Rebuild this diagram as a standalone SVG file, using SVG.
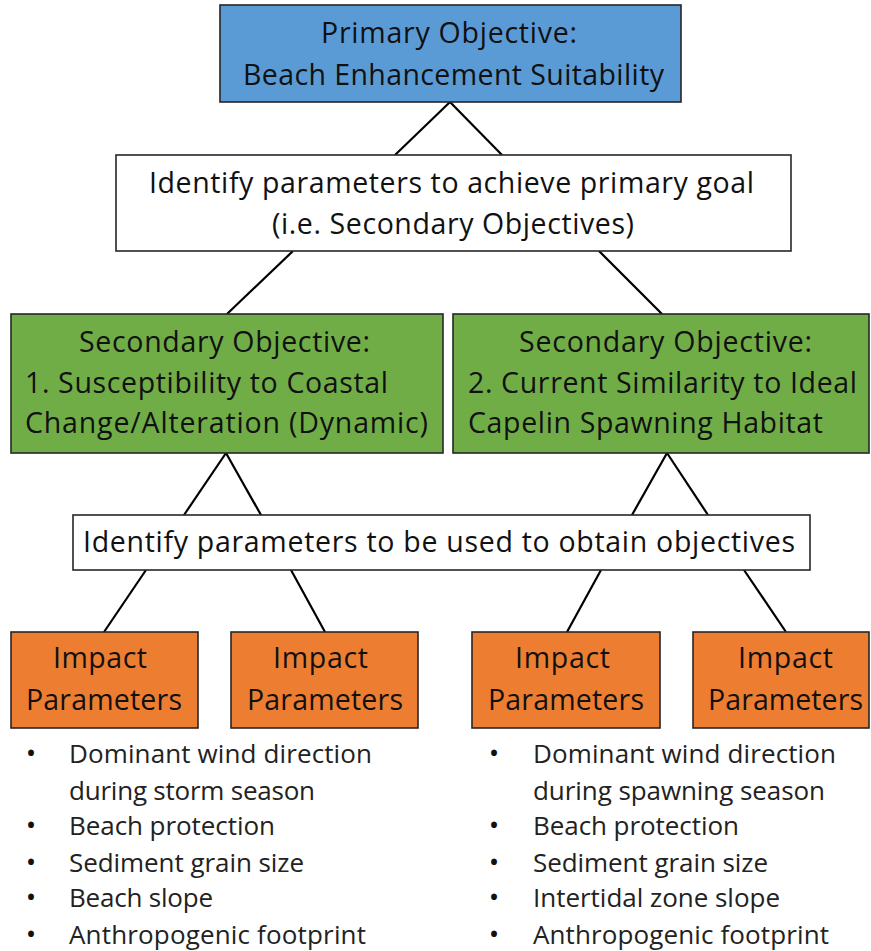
<svg xmlns="http://www.w3.org/2000/svg" width="871" height="951" viewBox="0 0 871 951">
<style>
.box{stroke:#262626;stroke-width:1.6}
.blue{fill:#5B9BD5}
.white{fill:#FFFFFF}
.green{fill:#70AD47}
.orange{fill:#ED7D31}
text{font-family:"Open Sans","Liberation Sans",sans-serif;fill:#111111}
.t{font-size:28.5px}
.b{font-size:26px;fill:#222222}
.d{font-size:28px;fill:#111111}
.conn line{stroke:#000000;stroke-width:2.2}
</style>
<rect width="871" height="951" fill="#FFFFFF"/>
<g class="conn" id="connectors">
<line x1="450" y1="102" x2="395" y2="155"/>
<line x1="450" y1="102" x2="502" y2="155"/>
<line x1="293" y1="251" x2="227" y2="314"/>
<line x1="599" y1="251" x2="662" y2="314"/>
<line x1="226" y1="453" x2="184" y2="515"/>
<line x1="226" y1="453" x2="261" y2="515"/>
<line x1="667" y1="453" x2="632" y2="515"/>
<line x1="667" y1="453" x2="708" y2="515"/>
<line x1="146" y1="570" x2="104" y2="632"/>
<line x1="291" y1="570" x2="325" y2="632"/>
<line x1="601" y1="570" x2="567" y2="632"/>
<line x1="744" y1="570" x2="786" y2="632"/>
</g>
<g id="primary">
<rect class="box blue" x="220" y="5" width="461" height="97"/>
<text class="t" x="321" y="43" textLength="256">Primary Objective:</text>
<text class="t" x="243" y="85" textLength="421">Beach Enhancement Suitability</text>
</g>
<g id="identify-secondary">
<rect class="box white" x="116" y="155" width="675" height="96"/>
<text class="t" x="149" y="193" textLength="605">Identify parameters to achieve primary goal</text>
<text class="t" x="272" y="234" textLength="362">(i.e. Secondary Objectives)</text>
</g>
<g id="secondary-1">
<rect class="box green" x="11" y="314" width="432" height="139"/>
<text class="t" x="79" y="352" textLength="291">Secondary Objective:</text>
<text class="t" x="25" y="393" textLength="363">1. Susceptibility to Coastal</text>
<text class="t" x="25" y="433" textLength="403">Change/Alteration (Dynamic)</text>
</g>
<g id="secondary-2">
<rect class="box green" x="453" y="314" width="416" height="139"/>
<text class="t" x="519" y="352" textLength="293">Secondary Objective:</text>
<text class="t" x="468" y="393" textLength="389">2. Current Similarity to Ideal</text>
<text class="t" x="468" y="433" textLength="355">Capelin Spawning Habitat</text>
</g>
<g id="identify-parameters">
<rect class="box white" x="73" y="515" width="737" height="55"/>
<text class="t" x="83" y="552" textLength="712">Identify parameters to be used to obtain objectives</text>
</g>
<g id="impact-1">
<rect class="box orange" x="11" y="632" width="187" height="96"/>
<text class="t" x="53" y="668" textLength="94">Impact</text>
<text class="t" x="26" y="710" textLength="156">Parameters</text>
</g>
<g id="impact-2">
<rect class="box orange" x="231" y="632" width="187" height="96"/>
<text class="t" x="273" y="668" textLength="95">Impact</text>
<text class="t" x="247" y="710" textLength="156">Parameters</text>
</g>
<g id="impact-3">
<rect class="box orange" x="472" y="632" width="188" height="96"/>
<text class="t" x="515" y="668" textLength="95">Impact</text>
<text class="t" x="488" y="710" textLength="156">Parameters</text>
</g>
<g id="impact-4">
<rect class="box orange" x="693" y="632" width="176" height="96"/>
<text class="t" x="738" y="668" textLength="95">Impact</text>
<text class="t" x="708" y="710" textLength="155">Parameters</text>
</g>
<g id="list-left">
<text class="d" x="31" y="763" text-anchor="middle">•</text>
<text class="b" x="69" y="763" textLength="303">Dominant wind direction</text>
<text class="b" x="69" y="800" textLength="246">during storm season</text>
<text class="d" x="31" y="835" text-anchor="middle">•</text>
<text class="b" x="69" y="835" textLength="206">Beach protection</text>
<text class="d" x="31" y="872" text-anchor="middle">•</text>
<text class="b" x="69" y="872" textLength="235">Sediment grain size</text>
<text class="d" x="31" y="907" text-anchor="middle">•</text>
<text class="b" x="69" y="907" textLength="144">Beach slope</text>
<text class="d" x="31" y="944" text-anchor="middle">•</text>
<text class="b" x="69" y="944" textLength="297">Anthropogenic footprint</text>
</g>
<g id="list-right">
<text class="d" x="494" y="763" text-anchor="middle">•</text>
<text class="b" x="533" y="763" textLength="303">Dominant wind direction</text>
<text class="b" x="533" y="800" textLength="292">during spawning season</text>
<text class="d" x="494" y="835" text-anchor="middle">•</text>
<text class="b" x="533" y="835" textLength="206">Beach protection</text>
<text class="d" x="494" y="872" text-anchor="middle">•</text>
<text class="b" x="533" y="872" textLength="235">Sediment grain size</text>
<text class="d" x="494" y="907" text-anchor="middle">•</text>
<text class="b" x="533" y="907" textLength="247">Intertidal zone slope</text>
<text class="d" x="494" y="944" text-anchor="middle">•</text>
<text class="b" x="533" y="944" textLength="296">Anthropogenic footprint</text>
</g>
</svg>
